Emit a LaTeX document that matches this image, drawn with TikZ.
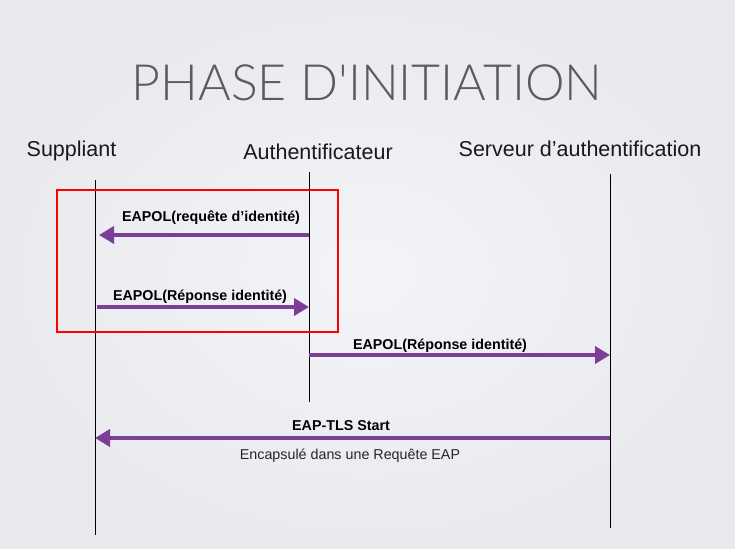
\documentclass[tikz,border=0pt]{standalone}
\usepackage{fontspec}
\setmainfont{Liberation Sans}
\newfontfamily\titlefont{Lato Light}
\usetikzlibrary{arrows.meta,positioning}
\definecolor{msgpurple}{RGB}{125,62,152}
\definecolor{paperin}{RGB}{243,244,247}
\definecolor{paperout}{RGB}{233,234,238}
\definecolor{titlegray}{RGB}{92,92,92}

\begin{document}
\begin{tikzpicture}[x=1pt,y=-1pt,
  lifeline/.style={line width=1pt,black},
  msg/.style={-{Triangle[length=15pt,width=17pt]},line width=4pt,msgpurple},
  msglabel/.style={font=\fontsize{14.3}{16}\selectfont\bfseries,inner sep=0pt,anchor=base},
  msgnote/.style={font=\fontsize{14.3}{16}\selectfont,inner sep=0pt,anchor=base,text=black!85},
  actor/.style={font=\fontsize{21.5}{24}\selectfont,inner sep=0pt,anchor=base,text=black!90}]
% background
\shade[inner color=paperin,outer color=paperout] (0,0) rectangle (735,548);
\useasboundingbox (0,0) rectangle (735,548);

% title
\node[font=\titlefont\fontsize{50}{56}\selectfont,text=titlegray,inner sep=0pt,anchor=base] (title) at (367,101) {PHASE D'INITIATION};

% actors
\node[actor] (sup) at (71.5,157) {Suppliant};
\node[actor] (auth) at (318,160) {Authentificateur};
\node[actor] (serv) at (580,157) {Serveur d’authentification};

% lifelines
\coordinate (sup-top) at (95,180);  \coordinate (sup-bot) at (95,535);
\coordinate (auth-top) at (309,172); \coordinate (auth-bot) at (309,402);
\coordinate (serv-top) at (610,174); \coordinate (serv-bot) at (610,528);
\draw[lifeline] (sup-top) -- (sup-bot);
\draw[lifeline] (auth-top) -- (auth-bot);
\draw[lifeline] (serv-top) -- (serv-bot);

% red frame
\draw[red,line width=1.5pt] (57,190) rectangle (338,332);

% messages
\coordinate (m1-from) at (309,235); \coordinate (m1-to) at (99,235);
\coordinate (m2-from) at (97,307);  \coordinate (m2-to) at (309,307);
\coordinate (m3-from) at (309,355); \coordinate (m3-to) at (610,355);
\coordinate (m4-from) at (610,438); \coordinate (m4-to) at (95,438);
\draw[msg] (m1-from) -- (m1-to);
\draw[msg] (m2-from) -- (m2-to);
\draw[msg] (m3-from) -- (m3-to);
\draw[msg] (m4-from) -- (m4-to);

\node[msglabel] (l1) at (211,221) {EAPOL(requête d’identité)};
\node[msglabel] (l2) at (200,300) {EAPOL(Réponse identité)};
\node[msglabel] (l3) at (440,349) {EAPOL(Réponse identité)};
\node[msglabel] (l4) at (341,430) {EAP-TLS Start};
\node[msgnote] (n4) at (350,459) {Encapsulé dans une Requête EAP};
\end{tikzpicture}
\end{document}
